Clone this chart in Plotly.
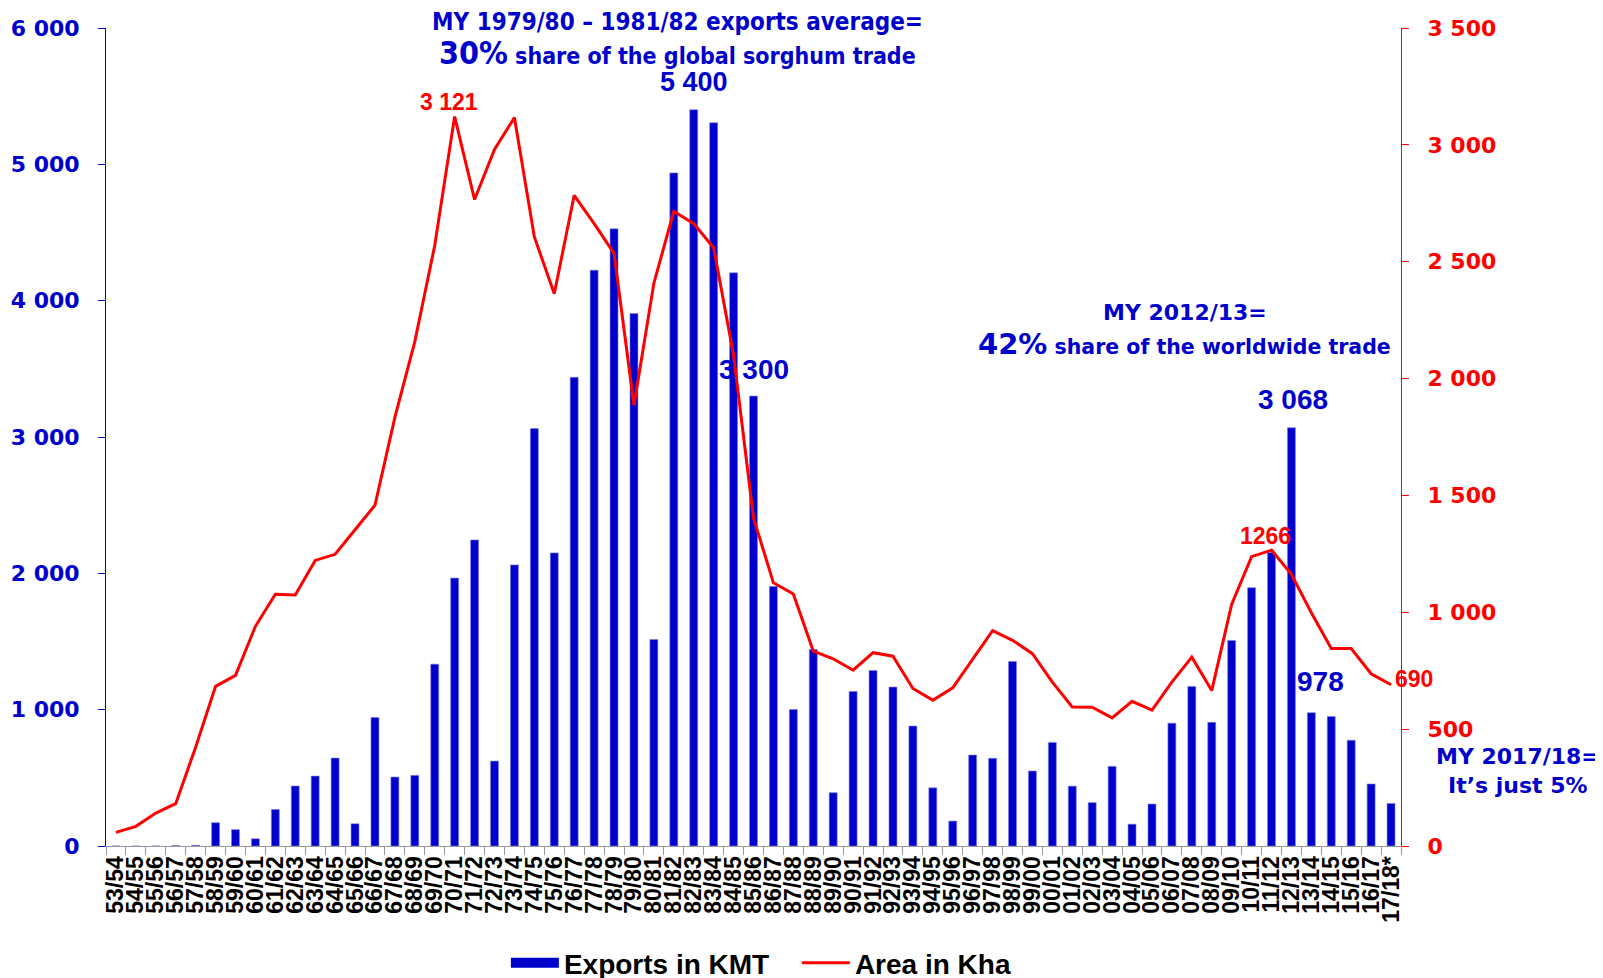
import plotly.graph_objects as go

seasons = ["53/54", "54/55", "55/56", "56/57", "57/58", "58/59", "59/60", "60/61", "61/62", "62/63",
           "63/64", "64/65", "65/66", "66/67", "67/68", "68/69", "69/70", "70/71", "71/72", "72/73",
           "73/74", "74/75", "75/76", "76/77", "77/78", "78/79", "79/80", "80/81", "81/82", "82/83",
           "83/84", "84/85", "85/86", "86/87", "87/88", "88/89", "89/90", "90/91", "91/92", "92/93",
           "93/94", "94/95", "95/96", "96/97", "97/98", "98/99", "99/00", "00/01", "01/02", "02/03",
           "03/04", "04/05", "05/06", "06/07", "07/08", "08/09", "09/10", "10/11", "11/12", "12/13",
           "13/14", "14/15", "15/16", "16/17", "17/18*"]

exports_kmt = [0, 0, 0, 3, 5, 171, 120, 53, 268, 440,
               513, 645, 163, 943, 506, 518, 1334, 1965, 2245, 623,
               2062, 3062, 2150, 3438, 4224, 4527, 3905, 1514, 4937, 5400,
               5305, 4204, 3300, 1904, 1001, 1442, 391, 1133, 1287, 1166,
               880, 427, 183, 667, 643, 1354, 550, 760, 439, 318,
               584, 160, 308, 901, 1170, 907, 1508, 1895, 2152, 3068,
               978, 950, 775, 455, 312]

area_kha = [58, 84, 141, 181, 423, 683, 730, 940, 1077, 1074,
            1222, 1248, 1353, 1458, 1834, 2158, 2569, 3121, 2766, 2980,
            3117, 2606, 2363, 2784, 2663, 2536, 1886, 2408, 2716, 2663,
            2560, 2100, 1404, 1126, 1078, 834, 801, 752, 827, 812,
            674, 624, 677, 800, 921, 880, 823, 701, 595, 594,
            548, 619, 581, 701, 808, 665, 1034, 1238, 1266, 1162,
            998, 845, 845, 737, 690]

BLUE = "#0000CC"
RED = "#FF0000"
VERD = "DejaVu Sans"
TAH = "DejaVu Sans Condensed, DejaVu Sans"
ARIAL = "Liberation Sans, Arial"

fig = go.Figure()
fig.add_trace(go.Bar(
    x=seasons, y=exports_kmt, name="Exports in KMT",
    marker=dict(color=BLUE, line=dict(color="#8080E0", width=0.6)),
    yaxis="y", showlegend=False,
))
# legend entry for the bars drawn as a wide swatch
fig.add_trace(go.Scatter(
    x=[None], y=[None], name="Exports in KMT", mode="lines",
    line=dict(color=BLUE, width=14), yaxis="y", showlegend=True,
))
fig.add_trace(go.Scatter(
    x=seasons, y=area_kha, name="Area in Kha", mode="lines",
    line=dict(color=RED, width=3), yaxis="y2",
))

ann = []
ann.append(dict(xref="paper", yref="paper", x=0.441, y=1.007, xanchor="center", yanchor="middle",
                text="<b>MY 1979/80 – 1981/82 exports average=</b>", showarrow=False,
                font=dict(family=TAH, size=24, color=BLUE)))
ann.append(dict(xref="paper", yref="paper", x=0.441, y=0.970, xanchor="center", yanchor="middle",
                text="<b><span style='font-size:32px'>30%</span> share of the global sorghum trade</b>",
                showarrow=False, font=dict(family=TAH, size=23, color=BLUE)))
ann.append(dict(xref="paper", yref="paper", x=0.833, y=0.652, xanchor="center", yanchor="middle",
                text="<b>MY 2012/13=</b>", showarrow=False, font=dict(family=VERD, size=22, color=BLUE)))
ann.append(dict(xref="paper", yref="paper", x=0.833, y=0.614, xanchor="center", yanchor="middle",
                text="<b><span style='font-size:29px'>42%</span> share of the worldwide trade</b>",
                showarrow=False, font=dict(family=VERD, size=20.5, color=BLUE)))
ann.append(dict(xref="paper", yref="paper", x=1.090, y=0.110, xanchor="center", yanchor="middle",
                text="<b>MY 2017/18=</b>", showarrow=False, font=dict(family=VERD, size=22, color=BLUE)))
ann.append(dict(xref="paper", yref="paper", x=1.090, y=0.074, xanchor="center", yanchor="middle",
                text="<b>It’s just 5%</b>", showarrow=False, font=dict(family=VERD, size=22, color=BLUE)))


def idx(s):
    return seasons.index(s)


i = idx("82/83")
ann.append(dict(x=seasons[i], y=exports_kmt[i], xref="x", yref="y", yanchor="bottom", yshift=11,
                text="<b>5 400</b>", showarrow=False, font=dict(family=ARIAL, size=27, color=BLUE)))
i = idx("85/86")
ann.append(dict(x=seasons[i], y=exports_kmt[i], xref="x", yref="y", yanchor="bottom", yshift=9,
                text="<b>3 300</b>", showarrow=False, font=dict(family=ARIAL, size=28, color=BLUE)))
i = idx("12/13")
ann.append(dict(x=seasons[i], y=exports_kmt[i], xref="x", yref="y", yanchor="bottom", yshift=11, xshift=2,
                text="<b>3 068</b>", showarrow=False, font=dict(family=ARIAL, size=28, color=BLUE)))
i = idx("13/14")
ann.append(dict(x=seasons[i], y=exports_kmt[i], xref="x", yref="y", yanchor="bottom", yshift=14, xshift=9,
                text="<b>978</b>", showarrow=False, font=dict(family=ARIAL, size=28, color=BLUE)))
i = idx("70/71")
ann.append(dict(x=seasons[i], y=area_kha[i], xref="x", yref="y2", yanchor="bottom", yshift=0, xshift=-6,
                text="<b>3 121</b>", showarrow=False, font=dict(family=ARIAL, size=23, color=RED)))
i = idx("11/12")
ann.append(dict(x=seasons[i], y=area_kha[i], xref="x", yref="y2", yanchor="middle", yshift=14, xshift=-6,
                text="<b>1266</b>", showarrow=False, font=dict(family=ARIAL, size=23, color=RED)))
i = idx("17/18*")
ann.append(dict(x=seasons[i], y=area_kha[i], xref="x", yref="y2", xanchor="left", yanchor="middle",
                yshift=6, xshift=2,
                text="<b>690</b>", showarrow=False, font=dict(family=ARIAL, size=23, color=RED)))

fig.update_layout(
    width=1603, height=978,
    margin=dict(l=98, r=210, t=20, b=140, autoexpand=False),
    plot_bgcolor="white", paper_bgcolor="white",
    separators=". ",
    bargap=0.6,
    showlegend=True,
    legend=dict(orientation="h", x=0.5335, xanchor="center", y=-0.143, yanchor="middle",
                font=dict(family=ARIAL, size=28, color="black", weight="bold"),
                itemwidth=48, entrywidth=228, entrywidthmode="pixels",
                tracegroupgap=0, bgcolor="rgba(0,0,0,0)"),
    xaxis=dict(type="category", tickangle=-90, tickson="boundaries", ticks="outside", ticklen=8,
               tickmode="array", tickvals=seasons, ticktext=seasons, automargin=False,
               tickcolor="#999999", showline=True, linecolor="#999999", linewidth=1,
               tickfont=dict(family=ARIAL, size=23, color="black", weight="bold"),
               showgrid=False, range=[-0.5, len(seasons) - 0.5]),
    yaxis=dict(range=[0, 6000], dtick=1000, tickformat=",", showgrid=False, zeroline=False,
               showline=True, linecolor=BLUE, linewidth=1, ticks="outside", ticklen=7, tickcolor=BLUE,
               automargin=False,
               tickfont=dict(family=VERD, size=22, color=BLUE, weight="bold"), ticklabelstandoff=14),
    yaxis2=dict(range=[0, 3500], dtick=500, tickformat=",", overlaying="y", side="right",
                showgrid=False, zeroline=False, showline=True, linecolor=RED, linewidth=1,
                ticks="outside", ticklen=7, tickcolor=RED, automargin=False,
                tickfont=dict(family=VERD, size=22, color=RED, weight="bold"), ticklabelstandoff=14),
    annotations=ann,
)

fig.write_html("out.html")
